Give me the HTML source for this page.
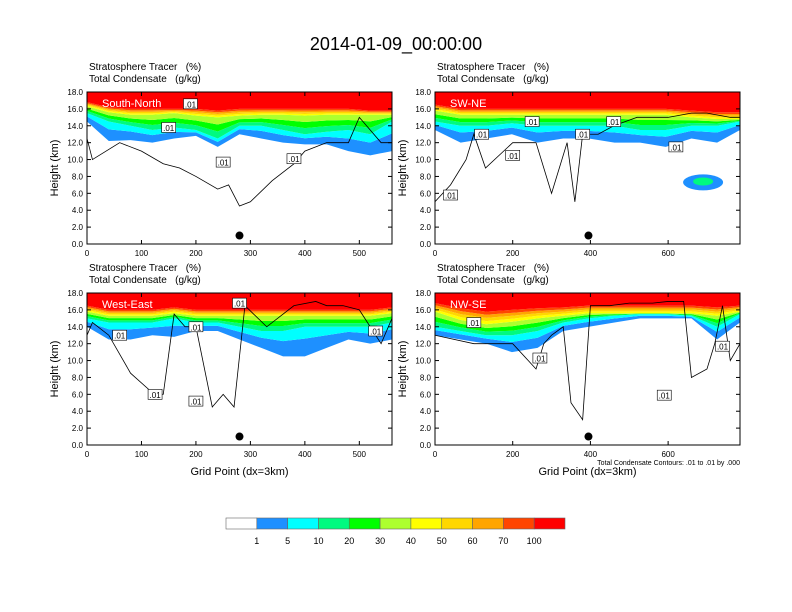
<!DOCTYPE html>
<html><head><meta charset="utf-8">
<style>
body{margin:0;background:#fff;}
svg{display:block;font-family:"Liberation Sans",sans-serif;}
text{white-space:pre;}
</style></head>
<body>
<svg id="fig" width="792" height="612" viewBox="0 0 792 612">
<text x="396" y="50" font-size="18" text-anchor="middle">2014-01-09_00:00:00</text>
<g id="panels"></g>
<g id="cbar"></g>
</svg>
<script>
const NS="http://www.w3.org/2000/svg";
const levelColors=["#ffffff","#1e90ff","#00ffff","#00fa80","#00ff00","#adff2f","#ffff00","#ffd700","#ffa500","#ff4500","#ff0000"];
const levelLabels=["1","5","10","20","30","40","50","60","70","100"];
const panelNames=["South-North","SW-NE","West-East","NW-SE"];
const xMaxes=[560,785,560,785];
const p1X=[0,40,80,120,160,200,240,280,320,360,400,440,480,520,560];
const p1H1=[14.5,12.2,12.3,12,12.5,12.8,11.5,13,12.5,12,11.8,11.8,11,10.5,11];
const p1H10=[15.5,14.5,14,13.5,13.8,13.5,12.5,14,14,13.5,13,13.3,13.5,13,14.5];
const p1H50=[16.3,15.6,15.3,15.3,15.5,15.2,15,15.2,15.3,15.3,15.2,15.3,15.3,15.3,15.3];
const p1H100=[16.8,16.2,16,16,16,16,15.8,16,16,16,16,16,16,15.8,15.8];
const p2X=[0,66,132,198,264,330,396,462,528,594,660,726,785];
const p2H1=[13.5,12,12.5,13,12,12.5,12.5,12,12,11.5,12.5,12,13.5];
const p2H10=[14.5,14,14,14.3,14,14,14,14,13.5,13.5,14,14,14.5];
const p2H50=[15.8,15.3,15.3,15.3,15.3,15.3,15.3,15.3,15.3,15.3,15,14.8,14.8];
const p2H100=[16.5,16,16,16,16,16,16,16,16,16,15.8,15.6,15.6];
const p3X=p1X;
const p3H1=[14,12.5,12.5,13,12.8,13.5,13.5,12.5,11.5,10.5,10.5,11.5,12.5,12,12.5];
const p3H10=[15,14.5,14.5,14.5,15,14.5,14.5,14,13.5,13.5,14,14,14,14,14.5];
const p3H50=[15.8,15.3,15.3,15.3,15.6,15.3,15.3,15.3,15.3,15.3,15.3,15.3,15.3,15.3,15.6];
const p3H100=[16.5,16,16,16,16.3,16,16,16,16,16,16,16,16,16,16.3];
const p4X=p2X;
const p4H1=[13,12.5,12,11,11.5,13.5,14,14.5,15,15,15,12.5,14.5];
const p4H10=[14,13.5,13,13,13.5,14.5,15,15.3,15.5,15.5,15.3,14,15.5];
const p4H50=[15.8,14.8,14.3,14.6,15,15.3,15.6,15.6,15.6,15.6,15.6,15.3,15.8];
const p4H100=[16.8,16.2,15.8,16,16.2,16.3,16.5,16.5,16.5,16.5,16.5,16.3,16.5];
const c1X=[0,10,60,100,140,170,200,240,260,280,300,340,380,400,440,480,500,540,560];
const c1Y=[12.5,10,12,11,9.5,9,8,6.5,7,4.5,5,7.5,9.5,11,12,12,15,12,12];
const c2X=[0,40,80,100,130,200,260,300,340,360,380,420,460,520,600,660,700,760,785];
const c2Y=[5,7,10,13,9,12,12,6,12,5,13,13,14,15,15,15.5,15.5,15,15];
const c3X=[0,10,40,80,120,140,160,180,200,230,250,270,290,330,380,420,440,470,500,520,540,560];
const c3Y=[13,14.5,13,8.5,6.2,6,15.5,14,14,4.5,6,4.5,16.5,14,16.5,17,16.5,16.5,16,14,12,15];
const c4X=[0,100,200,260,280,300,330,350,380,400,420,450,500,560,600,640,660,700,720,740,760,785];
const c4Y=[13,12,12,9,12,13,14,5,3,16.5,16.5,16.5,16.8,16.8,17,17,8,9,12,16.5,10,12];
const labels1=[[190,16.6],[150,13.8],[250,9.7],[380,10.1]];
const labels2=[[120,13],[250,14.5],[380,13],[460,14.5],[200,10.5],[40,5.8],[620,11.5]];
const labels3=[[60,13],[200,14],[280,16.8],[125,6],[200,5.2],[530,13.5]];
const labels4=[[100,14.5],[270,10.3],[740,11.7],[590,5.9]];
const panelData=[
 [p1X,p1H1,p1H10,p1H50,p1H100,c1X,c1Y,labels1],
 [p2X,p2H1,p2H10,p2H50,p2H100,c2X,c2Y,labels2],
 [p3X,p3H1,p3H10,p3H50,p3H100,c3X,c3Y,labels3],
 [p4X,p4H1,p4H10,p4H50,p4H100,c4X,c4Y,labels4]];
const geo=[[87,92],[435,92],[87,293],[435,293]];
const W=305,H=152;
function mk(tag,attrs,parent){const e=document.createElementNS(NS,tag);for(const k in attrs)e.setAttribute(k,attrs[k]);if(parent)parent.appendChild(e);return e;}
const root=document.getElementById('panels');
panelData.forEach((d,pi)=>{
 const [X,H1,H10,H50,H100,CX,CY,LB]=d;
 const [x0,y0]=geo[pi]; const xm=xMaxes[pi];
 const sx=v=>x0+v/xm*W, sy=v=>y0+H-v/18*H;
 const g=mk('g',{},root);
 
 
 const cp=mk('clipPath',{id:'cp'+pi},g);mk('rect',{x:x0,y:y0,width:W,height:H},cp);
 const plot=mk('g',{'clip-path':'url(#cp'+pi+')'},g);
 const lerp=(a,b,t)=>a.map((v,i)=>v+(b[i]-v)*t);
 const bounds=[H1,lerp(H1,H10,0.6),H10,lerp(H10,H50,0.33),lerp(H10,H50,0.66),H50,lerp(H50,H100,0.25),lerp(H50,H100,0.5),lerp(H50,H100,0.75),H100,X.map(()=>18.5)];
 for(let b=0;b<bounds.length-1;b++){
  const lo=bounds[b],hi=bounds[b+1];
  let pts=X.map((x,i)=>sx(x)+','+sy(lo[i]));
  for(let i=X.length-1;i>=0;i--)pts.push(sx(X[i])+','+sy(hi[i]));
  const poly=mk('polygon',{points:pts.join(' '),fill:levelColors[b+1]},plot);
  
  
 }
 if(pi===1){const bl=mk('ellipse',{cx:sx(690),cy:sy(7.3),rx:20,ry:8,fill:'#1e90ff'},plot);mk('ellipse',{cx:sx(690),cy:sy(7.4),rx:10,ry:4,fill:'#00fa80'},plot);
  }
 const cl=mk('polyline',{points:CX.map((x,i)=>sx(x)+','+sy(CY[i])).join(' '),fill:'none',stroke:'#000','stroke-width':0.8},plot);
 
 
 LB.forEach(l=>{const lg=mk('g',{},plot);
  
  mk('rect',{x:sx(l[0])-7,y:sy(l[1])-5,width:14,height:10,fill:'#fff',stroke:'#000','stroke-width':0.6},lg);
  const t=mk('text',{x:sx(l[0]),y:sy(l[1])+3.5,'font-size':8,'text-anchor':'middle'},lg);t.textContent='.01';});
 const dot=mk('circle',{cx:sx(pi%2?395:280),cy:sy(1),r:4,fill:'#000'},g);
 
 const fr=mk('rect',{x:x0,y:y0,width:W,height:H,fill:'none',stroke:'#000','stroke-width':1},g);
 
 const nm=mk('text',{x:x0+15,y:y0+15,'font-size':11,fill:'#fff'},g);nm.textContent=panelNames[pi];
 
 const t1=mk('text',{x:x0+2,y:y0-22,'font-size':10},g);t1.textContent='Stratosphere Tracer   (%)';
 
 const t2=mk('text',{x:x0+2,y:y0-10,'font-size':10},g);t2.textContent='Total Condensate   (g/kg)';
 
 for(let v=0;v<=18;v+=2){const y=sy(v);
  mk('line',{x1:x0,x2:x0+4,y1:y,y2:y,stroke:'#000'},g);mk('line',{x1:x0+W-4,x2:x0+W,y1:y,y2:y,stroke:'#000'},g);
  const t=mk('text',{x:x0-4,y:y+3,'font-size':8,'text-anchor':'end'},g);t.textContent=v.toFixed(1);
  }
 const step=xm>600?200:100;
 for(let v=0;v<=xm;v+=step){const x=sx(v);
  mk('line',{x1:x,x2:x,y1:y0+H,y2:y0+H-4,stroke:'#000'},g);mk('line',{x1:x,x2:x,y1:y0,y2:y0+4,stroke:'#000'},g);
  const t=mk('text',{x:x,y:y0+H+12,'font-size':8,'text-anchor':'middle'},g);t.textContent=v;
  }
 const yt=mk('text',{x:0,y:0,'font-size':11,'text-anchor':'middle',transform:'translate('+(x0-29)+','+(y0+H/2)+') rotate(-90)'},g);
 yt.textContent='Height (km)';
 if(pi>=2){const xt=mk('text',{x:x0+W/2,y:y0+H+30,'font-size':11,'text-anchor':'middle'},g);xt.textContent='Grid Point (dx=3km)';
  }
 if(pi===3){const n=mk('text',{x:x0+W,y:y0+H+20,'font-size':7,'text-anchor':'end'},g);n.textContent='Total Condensate Contours: .01 to .01 by .000';
  }
});
const cb=document.getElementById('cbar');
const bw=339/levelColors.length;
levelColors.forEach((c,i)=>{const r=mk('rect',{x:226+i*bw,y:518,width:bw,height:11,fill:c,stroke:'#666','stroke-width':0.6},cb);
 });
levelLabels.forEach((l,i)=>{const t=mk('text',{x:226+(i+1)*bw,y:544,'font-size':9,'text-anchor':'middle'},cb);t.textContent=l;
 });
</script>
</body></html>
